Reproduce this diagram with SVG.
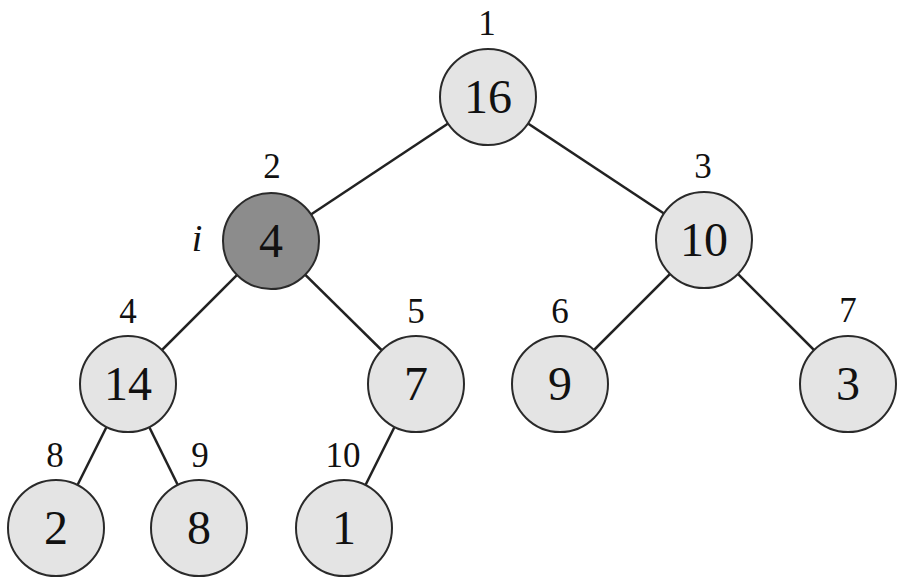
<svg xmlns="http://www.w3.org/2000/svg" width="910" height="586" viewBox="0 0 910 586">
<style>
.n{fill:#e4e4e4;stroke:#2a2a2a;stroke-width:2}
.d{fill:#8c8c8c;stroke:#2a2a2a;stroke-width:2}
.v{font-family:"Liberation Serif",serif;font-size:48px;fill:#111;text-anchor:middle}
.l{font-family:"Liberation Serif",serif;font-size:35px;fill:#111;text-anchor:middle}
.e line{stroke:#222;stroke-width:2.5}
</style>
<rect width="910" height="586" fill="#fff"/>
<g id="edges" class="e">
<line x1="488" y1="97" x2="271" y2="241"/>
<line x1="488" y1="97" x2="704" y2="240"/>
<line x1="271" y1="241" x2="128" y2="384"/>
<line x1="271" y1="241" x2="416" y2="384"/>
<line x1="704" y1="240" x2="560" y2="384"/>
<line x1="704" y1="240" x2="848" y2="384"/>
<line x1="128" y1="384" x2="56" y2="528"/>
<line x1="128" y1="384" x2="199" y2="528"/>
<line x1="416" y1="384" x2="344" y2="528"/>
</g>
<g id="node1"><text class="l" x="487" y="35">1</text><circle class="n" cx="488" cy="97" r="48"/><text class="v" x="488" y="113">16</text></g>
<g id="node2"><text class="l" x="272" y="178">2</text><text x="197" y="251" font-family="Liberation Serif,serif" font-size="38" font-style="italic" fill="#111" text-anchor="middle">i</text><circle class="d" cx="271" cy="241" r="48"/><text class="v" x="271" y="257">4</text></g>
<g id="node3"><text class="l" x="703" y="178">3</text><circle class="n" cx="704" cy="240" r="48"/><text class="v" x="704" y="256">10</text></g>
<g id="node4"><text class="l" x="128" y="323">4</text><circle class="n" cx="128" cy="384" r="48"/><text class="v" x="128" y="400">14</text></g>
<g id="node5"><text class="l" x="416" y="323">5</text><circle class="n" cx="416" cy="384" r="48"/><text class="v" x="416" y="400">7</text></g>
<g id="node6"><text class="l" x="560" y="323">6</text><circle class="n" cx="560" cy="384" r="48"/><text class="v" x="560" y="400">9</text></g>
<g id="node7"><text class="l" x="848" y="322">7</text><circle class="n" cx="848" cy="384" r="48"/><text class="v" x="848" y="400">3</text></g>
<g id="node8"><text class="l" x="55" y="467">8</text><circle class="n" cx="56" cy="528" r="48"/><text class="v" x="56" y="544">2</text></g>
<g id="node9"><text class="l" x="200" y="467">9</text><circle class="n" cx="199" cy="528" r="48"/><text class="v" x="199" y="544">8</text></g>
<g id="node10"><text class="l" x="343" y="467">10</text><circle class="n" cx="344" cy="528" r="48"/><text class="v" x="344" y="544">1</text></g>
</svg>
